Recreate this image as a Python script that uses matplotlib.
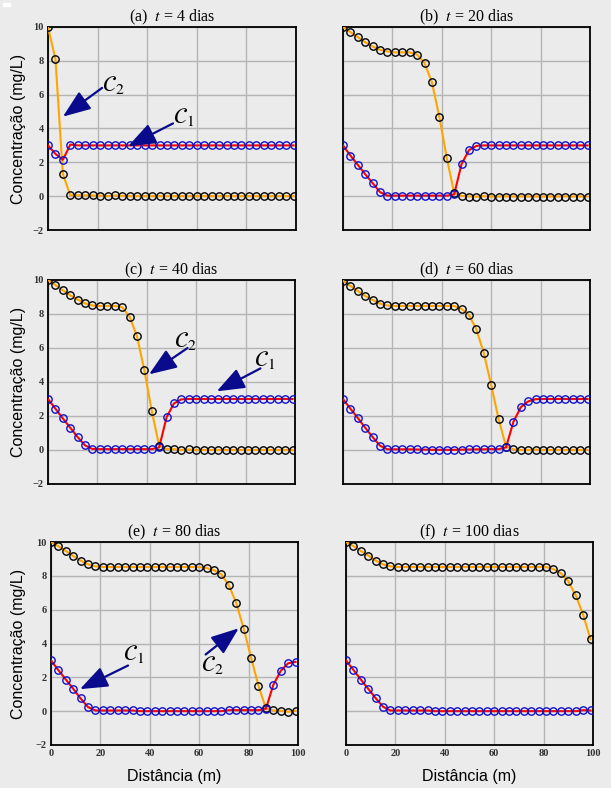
import numpy as np
import matplotlib
matplotlib.use('Agg')
import matplotlib.pyplot as plt

plt.rcParams['mathtext.fontset'] = 'stix'

# distancia (m), passo de 3 m
x = np.arange(0, 100, 3)

# (a) t = 4 dias
c1_a = [3.0, 2.5, 2.15, 3.05] + [3.0] * 30
c2_a = [10.0, 8.1, 1.3, 0.05, 0.05, 0.05, 0.04, 0.03, 0.0, 0.04, 0.02] + [0.0] * 23

# (b) t = 20 dias
c1_b = [3.0, 2.4, 1.85, 1.3, 0.77, 0.24, 0.03, 0.03, 0.03, 0.03, 0.03, 0.03, 0.03,
        0.03, 0.03, 0.1, 1.9, 2.72, 2.97] + [3.0] * 15
c2_b = [10.0, 9.7, 9.4, 9.1, 8.85, 8.65, 8.55, 8.5, 8.5, 8.5, 8.37, 7.87, 6.73, 4.7,
        2.26, 0.2, 0.02, -0.02, -0.03, 0.0, -0.02] + [-0.02] * 13

# (c) t = 40 dias
c1_c = [3.0, 2.43, 1.86, 1.31, 0.76, 0.27, 0.06, 0.05, 0.05, 0.05, 0.05, 0.05, 0.05,
        0.05, 0.05, 0.15, 1.92, 2.74, 2.98] + [3.0] * 15
c2_c = [10.0, 9.7, 9.4, 9.1, 8.85, 8.62, 8.5, 8.47, 8.47, 8.47, 8.4, 7.85, 6.7, 4.7,
        2.3, 0.25, 0.05, 0.05, 0.0, 0.03, 0.0] + [0.0] * 13

# (d) t = 60 dias
c1_d = [3.0, 2.43, 1.88, 1.31, 0.76, 0.25, 0.04, 0.04, 0.04, 0.04, 0.03, 0.02, 0.01,
        0.01, 0.01, 0.01, 0.02, 0.03, 0.04, 0.04, 0.05, 0.05, 0.15, 1.66, 2.52, 2.86,
        2.99] + [3.0] * 7
c2_d = [9.95, 9.65, 9.35, 9.06, 8.83, 8.6, 8.5, 8.47, 8.47, 8.47, 8.47, 8.47, 8.47,
        8.47, 8.47, 8.47, 8.3, 7.93, 7.1, 5.7, 3.82, 1.82, 0.2, 0.04, 0.0, 0.0, 0.02,
        0.0, 0.0, 0.0, 0.0, 0.0, 0.0, 0.0]

# (e) t = 80 dias
c1_e = [3.0, 2.42, 1.87, 1.32, 0.75, 0.24, 0.04, 0.04, 0.04, 0.04, 0.04, 0.04,
        0.0, 0.0, 0.0, 0.0, 0.0, 0.0, 0.0, 0.0, 0.0, 0.0, 0.0, 0.0, 0.06, 0.06, 0.06,
        0.06, 0.06, 0.14, 1.55, 2.38, 2.83, 2.91]
c2_e = [10.0, 9.75, 9.47, 9.17, 8.9, 8.68, 8.56] + [8.52] * 14 + \
       [8.46, 8.33, 8.09, 7.44, 6.4, 4.88, 3.17, 1.5, 0.16, 0.04, 0.02, -0.04, 0.02]

# (f) t = 100 dias
c1_f = [3.0, 2.44, 1.87, 1.32, 0.77, 0.26, 0.04, 0.04, 0.04, 0.04, 0.04, 0.04] + \
       [0.0] * 20 + [0.06, 0.04]
c2_f = [10.0, 9.76, 9.47, 9.2, 8.9, 8.68, 8.56] + [8.52] * 21 + \
       [8.4, 8.15, 7.68, 6.85, 5.7, 4.25]

titulos = ['(a)  $t$ = 4 dias', '(b)  $t$ = 20 dias', '(c)  $t$ = 40 dias',
           '(d)  $t$ = 60 dias', '(e)  $t$ = 80 dias', '(f)  $t$ = 100 dias']
dados = [(c1_a, c2_a), (c1_b, c2_b), (c1_c, c2_c),
         (c1_d, c2_d), (c1_e, c2_e), (c1_f, c2_f)]

# caixas dos eixos em pixels: esquerda, direita, topo, base
caixas = [(48, 296, 27, 230), (343, 590, 27, 230),
          (48, 295, 280, 484), (343, 590, 280, 484),
          (51, 298, 542, 745), (346, 593, 542, 745)]

# setas: (texto, xy do texto, ponta, cauda) em coordenadas de dados
setas = {
    0: [(r'$\mathcal{C}_2$', (26.5, 6.6), (6.0, 4.7), (21.8, 6.4)),
        (r'$\mathcal{C}_1$', (54.5, 4.7), (32.3, 2.95), (50.4, 4.3))],
    2: [(r'$\mathcal{C}_2$', (55.5, 6.4), (40.9, 4.45), (56.5, 6.0)),
        (r'$\mathcal{C}_1$', (87.8, 5.3), (68.3, 3.45), (86.0, 4.8))],
    4: [(r'$\mathcal{C}_1$', (33.5, 3.4), (11.7, 1.3), (31.2, 2.7)),
        (r'$\mathcal{C}_2$', (65.3, 2.7), (76.0, 4.9), (62.6, 3.35))],
}

W, H = 611, 788
bg = '#ebebeb'
fig = plt.figure(figsize=(W / 100, H / 100), dpi=100, facecolor=bg)

for i, ((l, r, t, b), (c1, c2)) in enumerate(zip(caixas, dados)):
    ax = fig.add_axes([l / W, 1 - b / H, (r - l) / W, (b - t) / H])
    ax.set_facecolor(bg)
    ax.plot(x, c2, color='orange', lw=1.5, zorder=3)
    ax.plot(x, c2, 'o', ms=5.3, mfc='none', mec='black', mew=1, zorder=4)
    ax.plot(x, c1, color='red', lw=1.5, zorder=3)
    ax.plot(x, c1, 'o', ms=5.3, mfc='none', mec='#1010c8', mew=1, zorder=4)
    ax.set_xlim(0, 100)
    ax.set_ylim(-2, 10)
    ax.set_xticks([0, 20, 40, 60, 80, 100])
    ax.set_yticks([-2, 0, 2, 4, 6, 8, 10])
    ax.grid(True, color='#b4b4b4', lw=1)
    ax.set_axisbelow(True)
    for s in ax.spines.values():
        s.set_color('black')
        s.set_linewidth(1.3)
    ax.tick_params(length=0, labelsize=7.5, pad=3, colors='#333333')
    for lab in ax.get_xticklabels() + ax.get_yticklabels():
        lab.set_family('Liberation Serif')
        lab.set_weight('bold')
    if i % 2 == 1:
        ax.set_yticklabels([])
    if i < 4:
        ax.set_xticklabels([])
    ax.set_title(titulos[i], family='Liberation Serif', fontsize=11.5, pad=3)

    for texto, pos, ponta, cauda in setas.get(i, []):
        ax.annotate('', xy=ponta, xytext=cauda,
                    arrowprops=dict(arrowstyle='-|>,head_length=1.7,head_width=0.65',
                                    mutation_scale=10, color='#0a0a8c', lw=1.6,
                                    shrinkA=0, shrinkB=0),
                    zorder=6)
        ax.text(pos[0], pos[1], texto, fontsize=16, ha='center', va='center',
                zorder=6)

# rotulos dos eixos
for yc in [(27 + 230) / 2, (280 + 484) / 2, (542 + 745) / 2]:
    fig.text(19 / W, 1 - yc / H, 'Concentração (mg/L)', rotation=90,
             ha='center', va='center', family='Liberation Sans', fontsize=11.5)
for xc in [(51 + 298) / 2, (346 + 593) / 2]:
    fig.text(xc / W, 1 - 777 / H, 'Distância (m)', ha='center', va='center',
             family='Liberation Sans', fontsize=11.5)

# pequena marca branca no canto
fig.patches.append(plt.Rectangle((3 / W, 1 - 6 / H), 7 / W, 3 / H,
                                 transform=fig.transFigure, color='white'))

fig.savefig('out.png', dpi=100, facecolor=bg)
